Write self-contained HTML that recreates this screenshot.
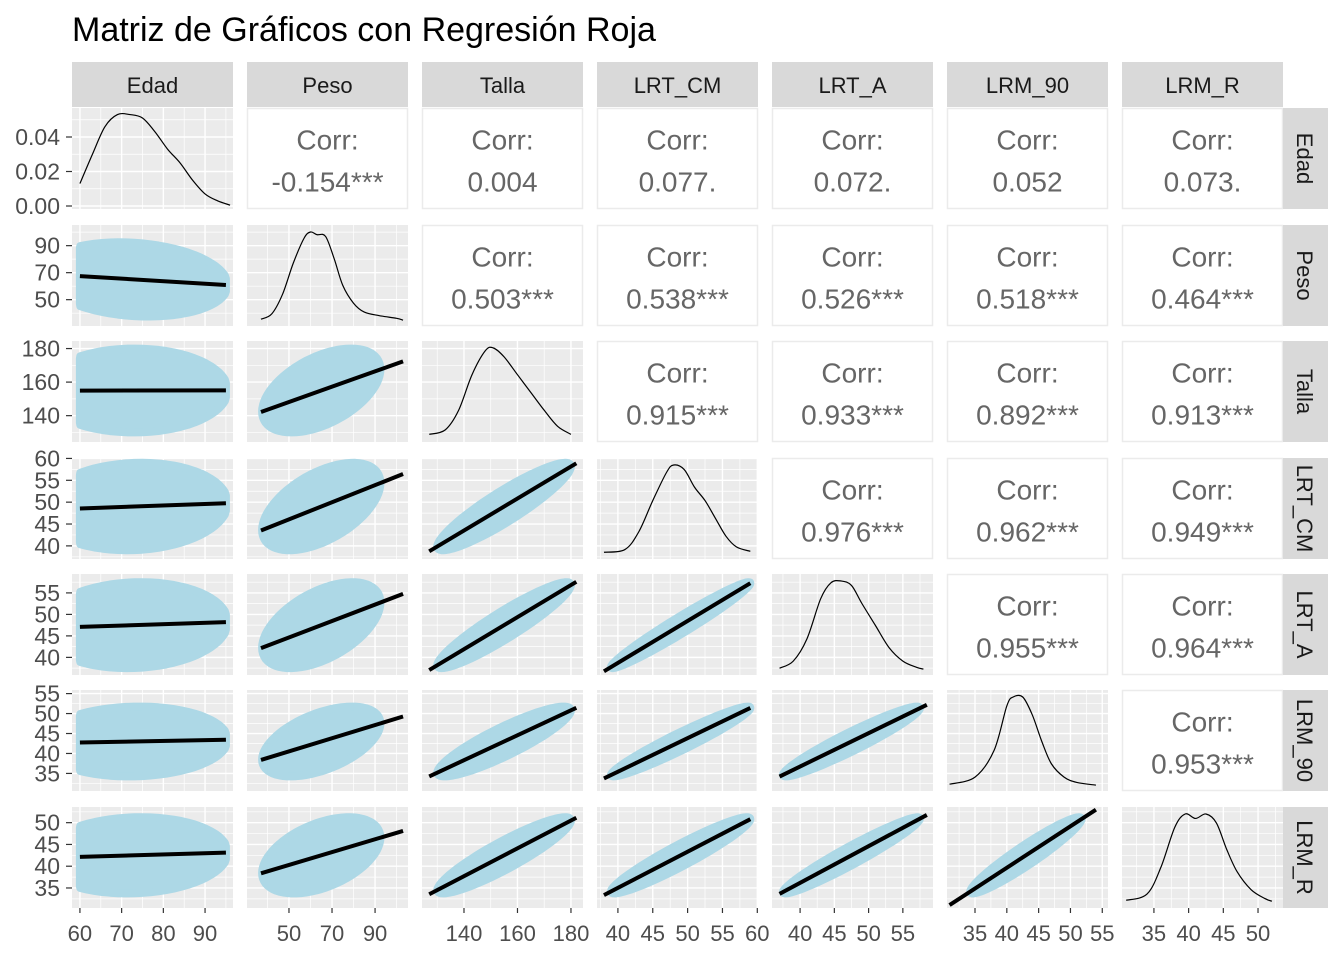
<!DOCTYPE html>
<html><head><meta charset="utf-8"><style>
body{margin:0;background:#fff;}
svg{display:block;font-family:"Liberation Sans",Arial,sans-serif;}
</style></head><body>
<svg id="chart" width="1344" height="960" xmlns="http://www.w3.org/2000/svg">
<text x="72" y="41" font-size="34" fill="#000">Matriz de Gráficos con Regresión Roja</text>
</svg>
<script>
const vars=['Edad','Peso','Talla','LRT_CM','LRT_A','LRM_90','LRM_R'];
const lo=[58.1,30.5,124.3,37,35.9,30.6,30.4];
const hi=[96.7,105.3,184.5,60.1,59.4,55.9,53.6];
const ticks=[[60,70,80,90],[50,70,90],[140,160,180],[40,45,50,55,60],[40,45,50,55],[35,40,45,50,55],[35,40,45,50]];
const means=[73,65,155,49,47.5,43,42.5];
const sds=[9,11,10,4,4,3.5,3.5];
const dmin=[60,37,127,38,37,31,31];
const dmax=[95,103,182,59,58.5,54,52];
const corrLabels=[
[null,'-0.154***','0.004','0.077.','0.072.','0.052','0.073.'],
[null,null,'0.503***','0.538***','0.526***','0.518***','0.464***'],
[null,null,null,'0.915***','0.933***','0.892***','0.913***'],
[null,null,null,null,'0.976***','0.962***','0.949***'],
[null,null,null,null,null,'0.955***','0.964***'],
[null,null,null,null,null,null,'0.953***']];
const edadDensX=[60,63,66,69,72,75,78,81,84,87,90,93,96];
const edadDensY=[0.013,0.03,0.046,0.053,0.053,0.051,0.043,0.033,0.025,0.015,0.007,0.003,0.0005];
const densX=[null,
[37,42,47,52,57,60,63,67,71,75,80,85,92,100,103],
[127,133,138,143,148,151,155,160,165,170,175,180],
[38,41,43,45,47,48,49.5,51,52.5,54,55.5,57,59],
[37,39,41,43,44.5,46,47.5,49,51,53,55,57,58],
[31,35,38,40,41,42.5,44,45.5,47,49,51,54],
[31,34,36,38,39.5,41,42.5,44,45.5,47,49,51,52]];
const densY=[null,
[0.02,0.08,0.3,0.65,0.93,1,0.97,0.95,0.7,0.4,0.2,0.1,0.06,0.03,0.01],
[0.03,0.08,0.3,0.7,0.97,1,0.9,0.7,0.5,0.3,0.12,0.03],
[0.02,0.05,0.25,0.6,0.92,1,0.95,0.75,0.6,0.4,0.2,0.08,0.03],
[0.02,0.1,0.35,0.8,0.98,1,0.95,0.75,0.5,0.25,0.1,0.03,0.01],
[0.02,0.1,0.4,0.9,1,1,0.8,0.5,0.25,0.1,0.04,0.01],
[0.03,0.1,0.4,0.85,1,0.95,1,0.9,0.6,0.35,0.15,0.05,0.02]];
const edadYTicks=[0,0.02,0.04];

const NS='http://www.w3.org/2000/svg';
const svg=document.getElementById('chart');
const colX=[72,247,422,597,772,947,1122], PW=161;
const rowY=[108,225,341,458,574,690,807], PH=101;
function el(tag,attrs,parent){const e=document.createElementNS(NS,tag);for(const k in attrs)e.setAttribute(k,attrs[k]);(parent||svg).appendChild(e);return e;}
function sx(i,v){return colX[i]+(v-lo[i])/(hi[i]-lo[i])*PW;}
function sy(j,v){return rowY[j]+PH-(v-lo[j])/(hi[j]-lo[j])*PH;}
function minors(t){const s=t[1]-t[0];const m=[];for(let k=-1;k<t.length;k++)m.push(t[0]+s*(k+0.5));return m;}
function smooth(pts){let d='M'+pts[0][0]+','+pts[0][1];for(let i=0;i<pts.length-1;i++){const p0=pts[Math.max(0,i-1)],p1=pts[i],p2=pts[i+1],p3=pts[Math.min(pts.length-1,i+2)];d+=' C'+(p1[0]+(p2[0]-p0[0])/6)+','+(p1[1]+(p2[1]-p0[1])/6)+' '+(p2[0]-(p3[0]-p1[0])/6)+','+(p2[1]-(p3[1]-p1[1])/6)+' '+p2[0]+','+p2[1];}return d;}
const defs=el('defs',{});
function gridBg(i,j,g,yt,ysc){
  el('rect',{x:colX[i],y:rowY[j],width:PW,height:PH,fill:'#EBEBEB'},g);
  minors(ticks[i]).forEach(v=>{const x=sx(i,v);if(x>colX[i]&&x<colX[i]+PW)el('line',{x1:x,x2:x,y1:rowY[j],y2:rowY[j]+PH,stroke:'#fff','stroke-width':0.7},g);});
  const ytk=yt||ticks[j];const ys=ysc||(v=>sy(j,v));
  const st=ytk[1]-ytk[0];for(let k=-1;k<ytk.length;k++){const y=ys(ytk[0]+st*(k+0.5));if(y>rowY[j]&&y<rowY[j]+PH)el('line',{x1:colX[i],x2:colX[i]+PW,y1:y,y2:y,stroke:'#fff','stroke-width':0.7},g);}
  ticks[i].forEach(v=>{const x=sx(i,v);el('line',{x1:x,x2:x,y1:rowY[j],y2:rowY[j]+PH,stroke:'#fff','stroke-width':1.4},g);});
  ytk.forEach(v=>{const y=ys(v);el('line',{x1:colX[i],x2:colX[i]+PW,y1:y,y2:y,stroke:'#fff','stroke-width':1.4},g);});
}
for(let j=0;j<7;j++){for(let i=0;i<7;i++){
  const g=el('g',{});
  
  
  const cid='c'+i+'_'+j;const cp=el('clipPath',{id:cid},defs);el('rect',{x:colX[i],y:rowY[j],width:PW,height:PH},cp);
  if(i>j){
    el('rect',{x:colX[i]+0.5,y:rowY[j]+0.5,width:PW-1,height:PH-1,fill:'#fff',stroke:'#EBEBEB','stroke-width':1.5},g);
    const cx=colX[i]+PW/2,cy=rowY[j]+PH/2;
    const t1=el('text',{x:cx,y:cy-9,'font-size':28,fill:'#666','text-anchor':'middle'},g);t1.textContent='Corr:';
    const t2=el('text',{x:cx,y:cy+33,'font-size':28,fill:'#666','text-anchor':'middle'},g);t2.textContent=corrLabels[j][i];
  } else if(i===j){
    if(i===0){
      const ys=v=>rowY[0]+PH-3-(v/0.04)*69;
      gridBg(0,0,g,edadYTicks,ys);
      const p=el('path',{d:smooth(edadDensX.map((x,k)=>[sx(0,x),ys(edadDensY[k])])),fill:'none',stroke:'#000','stroke-width':1.2},g);
      
    } else {
      gridBg(i,j,g);
      const p=el('path',{d:smooth(densX[i].map((x,k)=>[sx(i,x),rowY[j]+PH-5-densY[i][k]*(PH-12)])),fill:'none',stroke:'#000','stroke-width':1.2},g);
      
    }
  } else {
    gridBg(i,j,g);
    const r=parseFloat(corrLabels[i][j]);
    const k=2.5;let pts=[];
    for(let a=0;a<72;a++){const t=a/72*2*Math.PI,u=Math.cos(t),v=Math.sin(t);
      let X=means[i]+k*sds[i]*u,Y=means[j]+k*sds[j]*(r*u+Math.sqrt(1-r*r)*v);
      X=Math.max(dmin[i],Math.min(dmax[i],X));Y=Math.max(dmin[j],Math.min(dmax[j],Y));
      pts.push(sx(i,X).toFixed(1)+','+sy(j,Y).toFixed(1));}
    const cl=el('polygon',{points:pts.join(' '),fill:'#ADD8E6',stroke:'#ADD8E6','stroke-width':8,'stroke-linejoin':'round','clip-path':'url(#'+cid+')'},g);
    
    const b=r*sds[j]/sds[i];
    const ln=el('line',{x1:sx(i,dmin[i]),y1:sy(j,means[j]+b*(dmin[i]-means[i])),x2:sx(i,dmax[i]),y2:sy(j,means[j]+b*(dmax[i]-means[i])),stroke:'#000','stroke-width':4,'clip-path':'url(#'+cid+')'},g);
    
  }
}}
for(let i=0;i<7;i++){
  const s=el('rect',{x:colX[i],y:62,width:PW,height:45,fill:'#D9D9D9'});
  
  const t=el('text',{x:colX[i]+PW/2,y:93,'font-size':22,fill:'#1A1A1A','text-anchor':'middle'});t.textContent=vars[i];
  const s2=el('rect',{x:1283,y:rowY[i],width:45,height:PH,fill:'#D9D9D9'});
  
  const cy=rowY[i]+PH/2;
  const t2=el('text',{x:1297,y:cy,'font-size':22,fill:'#1A1A1A','text-anchor':'middle',transform:'rotate(90 1297 '+cy+')'});t2.textContent=vars[i];
}
for(let i=0;i<7;i++){ticks[i].forEach(v=>{const x=sx(i,v);
  el('line',{x1:x,x2:x,y1:908,y2:913,stroke:'#333','stroke-width':1.2});
  const t=el('text',{x:x,y:941,'font-size':22,fill:'#4D4D4D','text-anchor':'middle'});
  
  t.textContent=v;});}
for(let j=0;j<7;j++){
  const tk=j===0?edadYTicks:ticks[j];
  tk.forEach(v=>{const y=j===0?rowY[0]+PH-3-(v/0.04)*69:sy(j,v);
    if(y<rowY[j]-2||y>rowY[j]+PH+2)return;
    el('line',{x1:66,x2:72,y1:y,y2:y,stroke:'#333','stroke-width':1.2});
    const t=el('text',{x:60,y:y+8,'font-size':23,fill:'#4D4D4D','text-anchor':'end'});
    
    t.textContent=j===0?v.toFixed(2):v;});
}
</script>
</body></html>
